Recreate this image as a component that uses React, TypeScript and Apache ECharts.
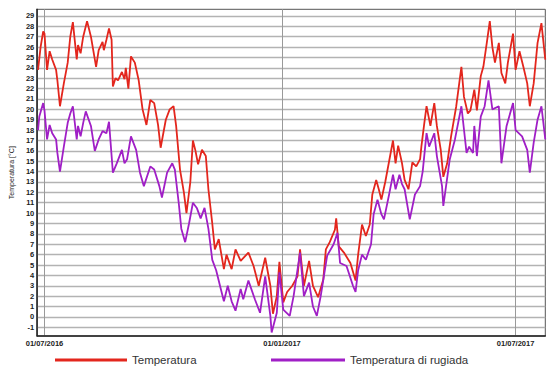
import React, { useEffect, useRef } from "react";
import * as echarts from "echarts";

// x = days since 01/07/2016, y = °C
const tempDays = [-5, -3, -1, 0, 2, 4, 6, 9, 10, 12, 15, 18, 20, 22, 25, 26, 28, 30, 33, 36, 40, 42, 45, 46, 48, 50, 52, 53, 55, 57, 60, 62, 63, 65, 67, 70, 73, 76, 79, 82, 85, 88, 90, 94, 97, 100, 102, 105, 108, 110, 113, 115, 117, 119, 122, 125, 127, 130, 132, 135, 139, 141, 145, 148, 152, 158, 162, 166, 171, 175, 177, 180, 182, 185, 188, 192, 196, 198, 201, 205, 208, 212, 216, 218, 221, 225, 226, 228, 232, 237, 241, 243, 246, 249, 252, 254, 257, 259, 261, 264, 267, 270, 272, 274, 277, 279, 282, 285, 288, 291, 292, 294, 296, 299, 302, 304, 307, 309, 312, 315, 319, 323, 325, 328, 330, 333, 335, 338, 340, 343, 345, 347, 349, 352, 354, 357, 359, 363, 365, 368, 371, 374, 376, 379, 382, 385, 388];
const tempValues = [23.8, 26, 27.5, 27.3, 23.8, 25.6, 24.8, 23.8, 22.8, 20.3, 22.5, 24.5, 27, 28.4, 24.8, 26.2, 25.4, 27, 28.5, 27, 24.1, 25.7, 26.5, 25.7, 26.7, 27.8, 26.7, 22.2, 23, 22.8, 23.6, 22.9, 24, 22, 25.1, 24.5, 22.8, 20, 18.5, 20.9, 20.6, 18.5, 16.3, 19, 20, 20.3, 18.4, 14.2, 12, 10, 13, 17, 16, 14.7, 16.1, 15.5, 12.3, 9, 6.5, 7.5, 4.6, 6, 4.6, 6.5, 5.4, 6.2, 4.9, 3, 5.7, 3, 0.3, 2, 5.3, 1.4, 2.4, 3, 3.9, 6.5, 3, 5.4, 3, 1.9, 3.6, 6.5, 7.2, 8.4, 9.5, 6.8, 6.2, 5.2, 3.5, 6, 8.9, 7.8, 8.9, 11.8, 13.2, 12.3, 11.3, 13, 15, 17, 14.8, 16.5, 14.8, 13.2, 12.3, 14.9, 14.5, 15.2, 16.4, 18.4, 20.3, 18.4, 20.6, 18.4, 16.1, 13.5, 14.8, 17.4, 20.3, 24.1, 21.2, 19.6, 19.9, 21.9, 19.9, 23.2, 24.1, 26.7, 28.5, 26, 24.5, 26.4, 23.5, 22.5, 24.5, 27.3, 23.8, 25.6, 24.1, 22.5, 20.3, 22.5, 26.4, 28.3, 24.8];

const dewDays = [-5, -4, -1, 0, 2, 4, 6, 9, 10, 12, 15, 18, 20, 22, 25, 26, 28, 30, 32, 36, 39, 42, 45, 48, 50, 53, 56, 60, 62, 64, 67, 71, 74, 77, 82, 85, 89, 91, 95, 99, 101, 104, 106, 109, 112, 115, 118, 121, 124, 127, 130, 133, 137, 139, 142, 145, 148, 152, 154, 158, 163, 167, 171, 175, 176, 180, 182, 185, 190, 193, 198, 201, 205, 208, 211, 214, 219, 224, 227, 229, 234, 239, 241, 243, 246, 249, 253, 255, 258, 261, 263, 267, 270, 272, 275, 277, 279, 283, 287, 291, 293, 296, 298, 302, 304, 308, 309, 314, 318, 323, 327, 329, 332, 333, 335, 338, 341, 344, 347, 352, 354, 358, 363, 365, 370, 374, 376, 379, 382, 385, 388];
const dewValues = [18, 19.3, 20.6, 19.9, 17.1, 18.5, 17.7, 17.1, 15.8, 14, 16.4, 18.7, 19.6, 20.3, 17.1, 18.4, 17.4, 18.7, 19.8, 18.4, 16, 17.1, 17.9, 17.7, 18.8, 13.9, 14.8, 16.1, 14.8, 15.2, 17.4, 16.1, 13.9, 12.6, 14.5, 14.2, 12.6, 11.5, 13.9, 14.8, 14.2, 11, 8.5, 7.2, 9, 11, 10.5, 9.5, 10.5, 8.5, 5.5, 4.5, 2.5, 1.5, 3, 1.5, 0.6, 2.7, 1.7, 3.5, 1.7, 0.4, 3.9, 0.1, -1.5, 0.4, 4.3, 0.7, 0.1, 2, 6.2, 2, 3.3, 1, 0.1, 2, 5.9, 7, 8.1, 5.2, 4.9, 3, 2.4, 4.5, 6, 5.5, 7, 9.9, 11.3, 9.9, 9.4, 11.8, 13.7, 12.3, 13.7, 12.8, 12.3, 9.4, 11.8, 12.6, 14, 17.7, 16.4, 17.7, 15.5, 12.6, 10.7, 15.2, 17.1, 20.3, 15.8, 16.4, 15.8, 18.4, 15.5, 19.3, 20.3, 22.8, 20, 20.3, 14.8, 18.4, 20.6, 18, 17.4, 16.1, 13.9, 16.8, 19, 20.3, 17.1];

const yTicks = [-1, 0, 1, 2, 3, 4, 5, 6, 7, 8, 9, 10, 11, 12, 13, 14, 15, 16, 17, 18, 19, 20, 21, 22, 23, 24, 25, 26, 27, 28, 29];
const xTickDays = [0, 184, 365];
const xTickLabels = ["01/07/2016", "01/01/2017", "01/07/2017"];

const seriesNames = ["Temperatura", "Temperatura di rugiada"];
const colors = ["#e3261d", "#a01fc6"];

export default function App() {
  const ref = useRef<HTMLDivElement>(null);
  useEffect(() => {
    if (!ref.current) return;
    const chart = echarts.init(ref.current, null, { renderer: "svg" });
    const font = "'Liberation Sans', Arial, sans-serif";
    chart.setOption({
      animation: false,
      backgroundColor: "#ffffff",
      grid: {
        left: 19,
        right: 4.7,
        top: 9.3,
        bottom: 38,
        show: true,
        borderColor: "#555",
        borderWidth: 1,
      },
      legend: [
        {
          data: [seriesNames[0]],
          left: 50,
          top: 349,
          icon: "rect",
          itemWidth: 72,
          itemHeight: 3,
          itemGap: 5,
          textStyle: { fontFamily: font, fontSize: 11.5, color: "#333" },
        },
        {
          data: [seriesNames[1]],
          left: 266,
          top: 349,
          icon: "rect",
          itemWidth: 74,
          itemHeight: 3,
          textStyle: { fontFamily: font, fontSize: 11.5, color: "#333" },
        },
      ],
      xAxis: {
        type: "value",
        min: -5.6,
        max: 388,
        axisLine: { show: true, onZero: false, lineStyle: { color: "#222", width: 1.5 } },
        axisTick: { show: false, customValues: xTickDays },
        axisLabel: {
          customValues: xTickDays,
          fontFamily: font,
          fontSize: 7.5,
          fontWeight: "bold",
          color: "#222",
          margin: 3,
          formatter: (v: number) => {
            const i = xTickDays.indexOf(Math.round(v));
            return i >= 0 ? xTickLabels[i] : "";
          },
        },
        splitLine: { show: true, lineStyle: { color: "#9a9a9a", width: 1 } },
      },
      yAxis: {
        type: "value",
        min: -1.84,
        max: 29.64,
        name: "Temperatura [°C]",
        nameLocation: "middle",
        nameGap: 12,
        nameTextStyle: { fontFamily: font, fontSize: 7, color: "#222" },
        axisLine: { show: true, onZero: false, lineStyle: { color: "#222", width: 1.5 } },
        axisTick: { show: false, customValues: yTicks },
        axisLabel: {
          customValues: yTicks,
          fontFamily: font,
          fontSize: 7.5,
          fontWeight: "bold",
          color: "#222",
          margin: 3,
        },
        splitLine: { show: true, lineStyle: { color: "#b3b3b3", width: 1.3 } },
      },
      series: [
        {
          name: seriesNames[0],
          type: "line",
          data: tempDays.map((d, i) => [d, tempValues[i]]),
          showSymbol: false,
          color: colors[0],
          lineStyle: { width: 1.8, color: colors[0] },
        },
        {
          name: seriesNames[1],
          type: "line",
          data: dewDays.map((d, i) => [d, dewValues[i]]),
          showSymbol: false,
          color: colors[1],
          lineStyle: { width: 1.8, color: colors[1] },
        },
      ],
    });
    return () => chart.dispose();
  }, []);
  return (
    <div
      ref={ref}
      style={{ position: "fixed", left: 0, top: 0, width: 550, height: 374, background: "#fff" }}
    />
  );
}
